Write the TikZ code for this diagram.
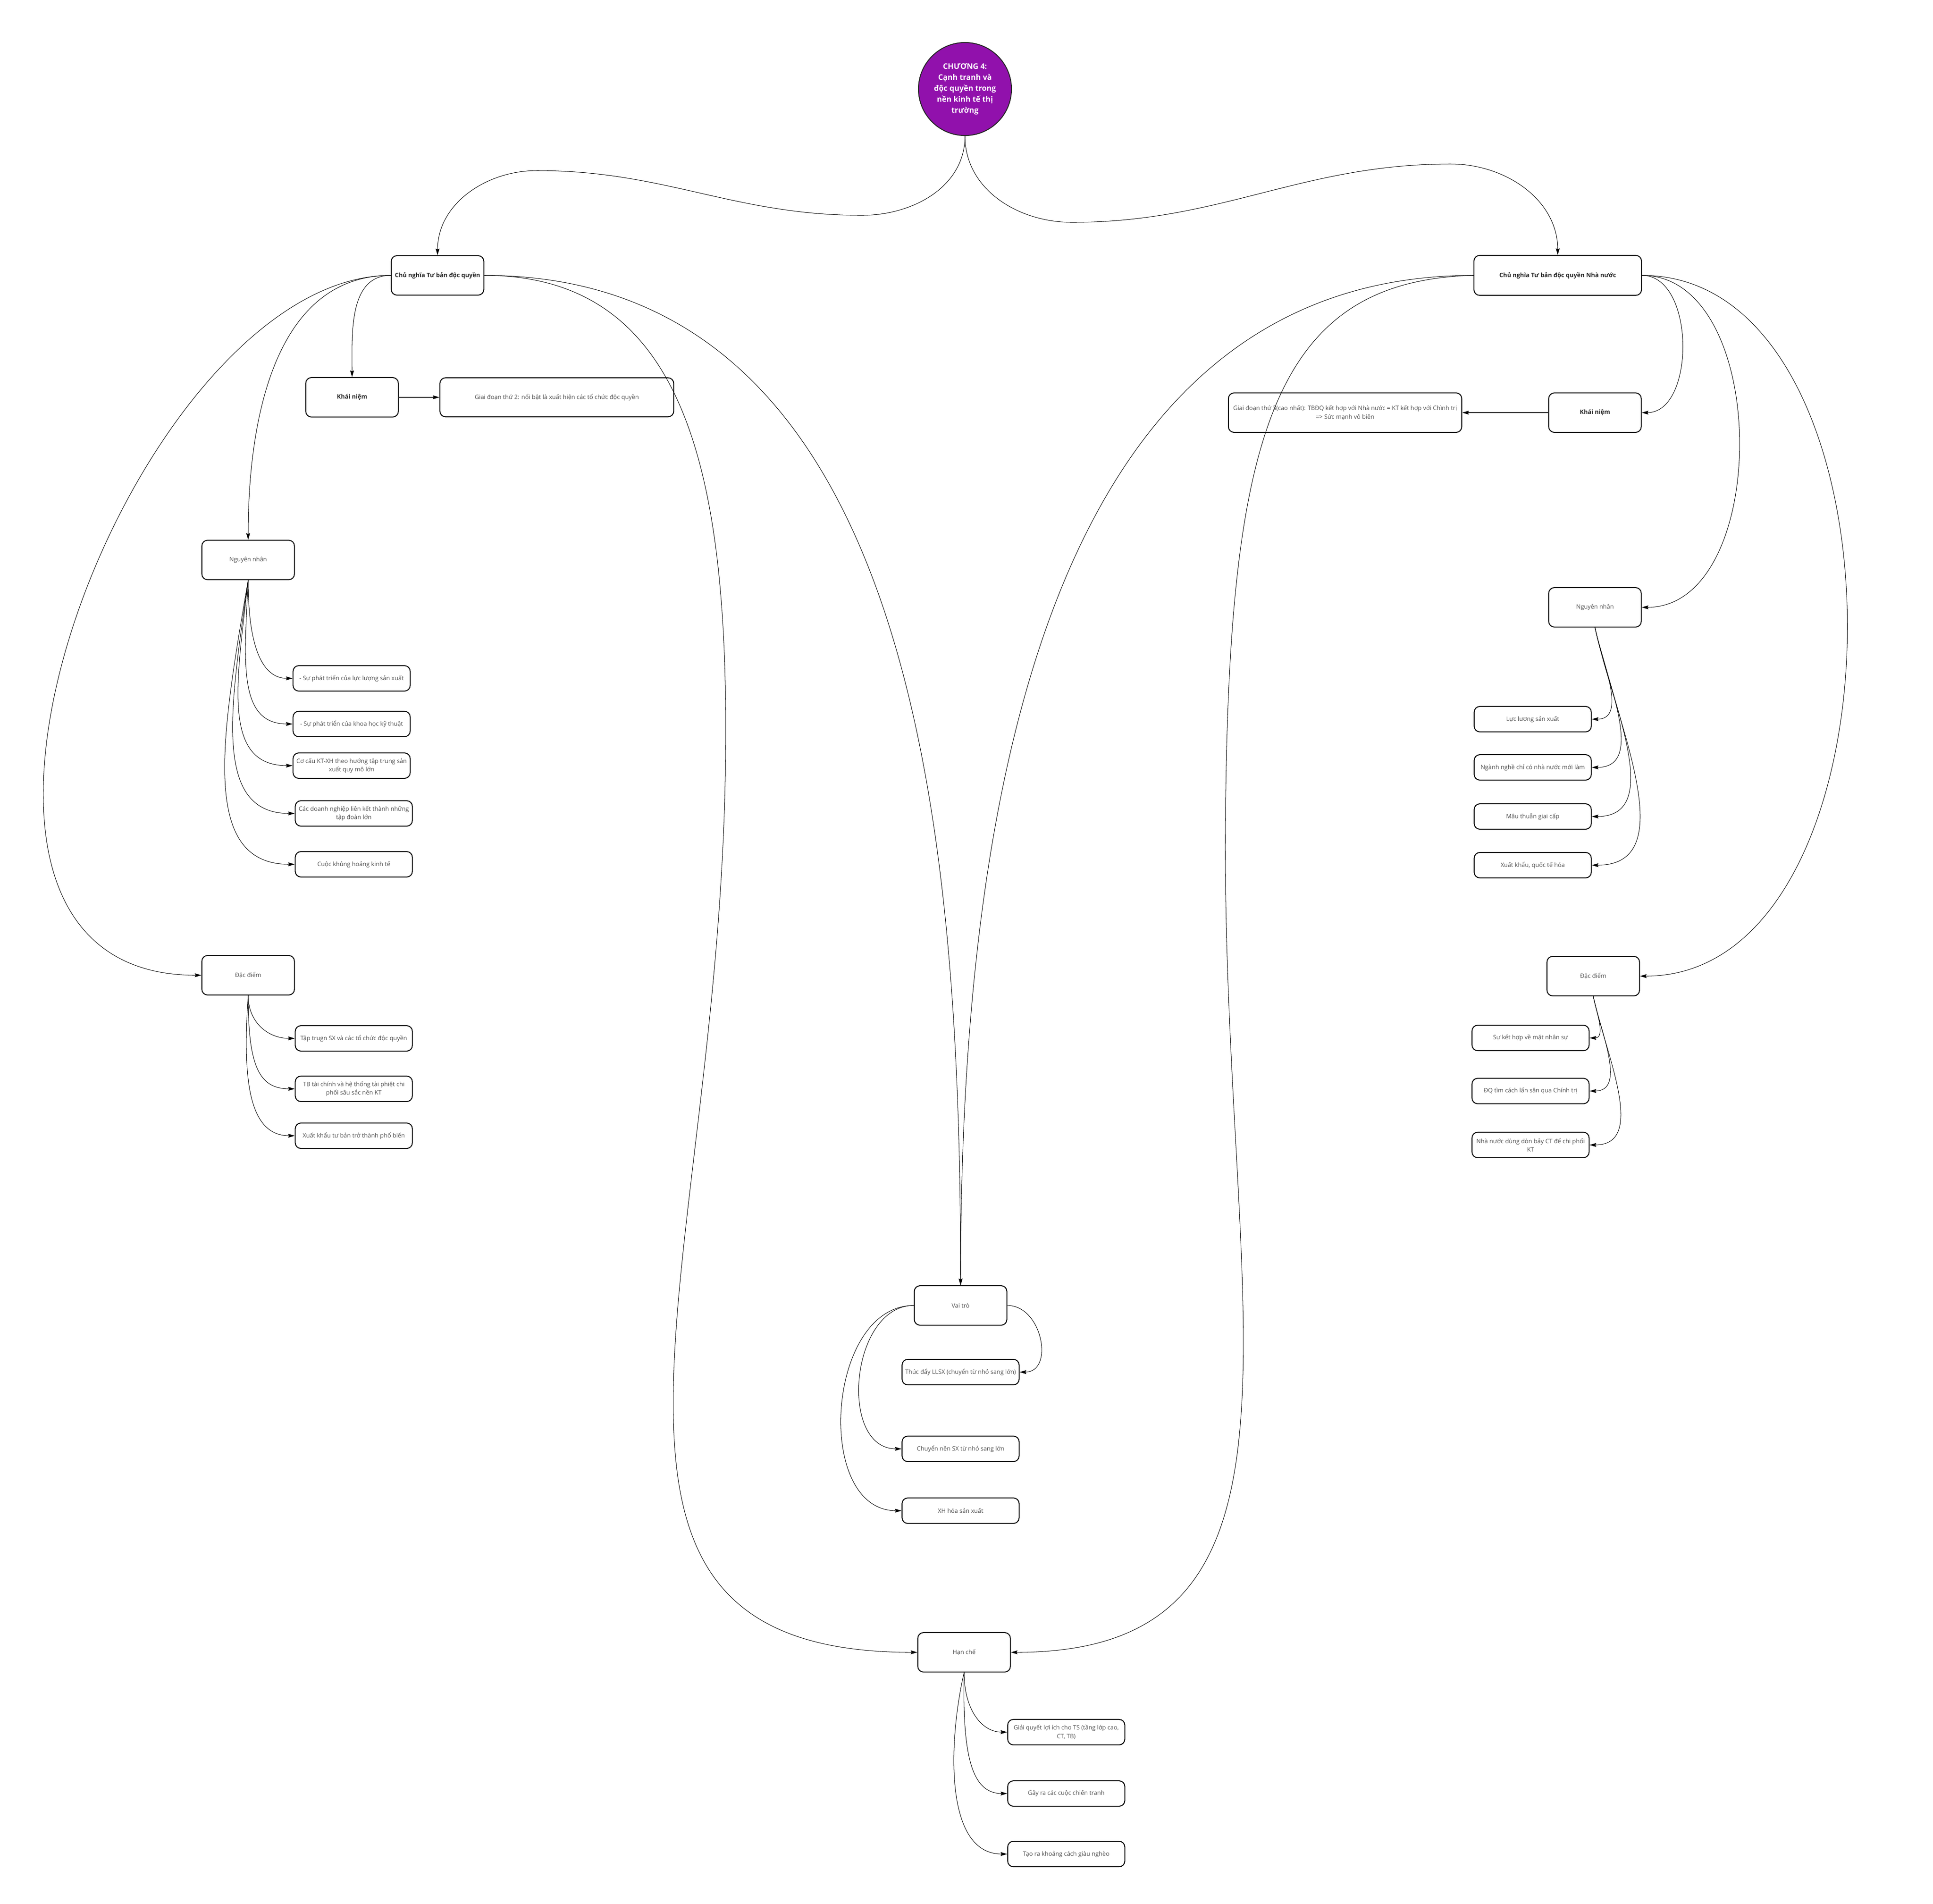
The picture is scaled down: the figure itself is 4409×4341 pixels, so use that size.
\documentclass[tikz,border=0pt]{standalone}
\usepackage{fontspec}
\setmainfont{Open Sans}
\usetikzlibrary{arrows.meta}
\definecolor{purp}{RGB}{145,17,172}
\definecolor{txt}{RGB}{80,80,80}
\definecolor{btxt}{RGB}{40,40,40}
\begin{document}
\begin{tikzpicture}[x=0.01cm,y=-0.01cm,
  box/.style={draw=black, line width=0.6pt, rounded corners=0.13cm, inner sep=0pt, align=center, text=txt, font=\fontsize{3.9pt}{5.5pt}\selectfont},
  bbox/.style={box, text=btxt, font=\fontsize{3.92pt}{5.5pt}\selectfont\bfseries},
  big/.style={minimum width=2.11cm, minimum height=0.9cm},
  leaf/.style={minimum width=2.67cm, minimum height=0.58cm},
  conn/.style={line width=0.3pt, -{Stealth[length=4.3pt,width=2.5pt,inset=0.6pt]}},
]
\useasboundingbox (0,0) rectangle (4409,4341);
\fill[white] (0,0) rectangle (4409,4341);

% central circle
\node[circle, fill=purp, draw=black!85, line width=0.6pt, minimum size=2.12cm, inner sep=0pt, align=center, text=white, font=\fontsize{4.95pt}{7.1pt}\selectfont\bfseries] (ch) at (2201,203) {CHƯƠNG 4:\\Cạnh tranh và\\độc quyền trong\\nền kinh tế thị\\trường};

% main branches
\node[bbox, big] (L) at (998,628) {Chủ nghĩa Tư bản độc quyền};
\node[bbox, minimum width=3.82cm, minimum height=0.91cm] (R) at (3553,628) {Chủ nghĩa Tư bản độc quyền Nhà nước};

% left side
\node[bbox, big] (knl) at (803,906) {Khái niệm};
\node[box, minimum width=5.33cm, minimum height=0.89cm] (gd2) at (1270,906) {Giai đoạn thứ 2: nổi bật là xuất hiện các tổ chức độc quyền};
\node[box, big] (nnl) at (566,1277) {Nguyên nhân};
\node[box, leaf] (c1) at (802,1547) {- Sự phát triển của lực lượng sản xuất};
\node[box, leaf] (c2) at (802,1651) {- Sự phát triển của khoa học kỹ thuật};
\node[box, leaf] (c3) at (802,1746) {Cơ cấu KT-XH theo hướng tập trung sản\\xuất quy mô lớn};
\node[box, leaf] (c4) at (807,1855) {Các doanh nghiệp liên kết thành những\\tập đoàn lớn};
\node[box, leaf] (c5) at (807,1971) {Cuộc khủng hoảng kinh tế};
\node[box, big] (ddl) at (566,2224) {Đặc điểm};
\node[box, leaf] (d1) at (807,2368) {Tập trugn SX và các tổ chức độc quyền};
\node[box, leaf] (d2) at (807,2483) {TB tài chính và hệ thống tài phiệt chi\\phối sâu sắc nền KT};
\node[box, leaf] (d3) at (807,2590) {Xuất khẩu tư bản trở thành phổ biến};

% right side
\node[bbox, big] (knr) at (3638,941) {Khái niệm};
\node[box, minimum width=5.32cm, minimum height=0.9cm] (gd3) at (3068,941) {Giai đoạn thứ 3(cao nhất): TBĐQ kết hợp với Nhà nước = KT kết hợp với Chình trị\\=> Sức mạnh vô biên};
\node[box, big] (nnr) at (3638,1385) {Nguyên nhân};
\node[box, leaf] (r1) at (3496,1640) {Lực lượng sản xuất};
\node[box, leaf] (r2) at (3496,1750) {Ngành nghề chỉ có nhà nước mới làm};
\node[box, leaf] (r3) at (3496,1862) {Mâu thuẫn giai cấp};
\node[box, leaf] (r4) at (3496,1973) {Xuất khẩu, quốc tế hóa};
\node[box, big] (ddr) at (3634,2226) {Đặc điểm};
\node[box, leaf] (s1) at (3491,2367) {Sự kết hợp về mặt nhân sự};
\node[box, leaf] (s2) at (3491,2488) {ĐQ tìm cách lấn sân qua Chính trị};
\node[box, leaf] (s3) at (3491,2611) {Nhà nước dùng dòn bảy CT để chi phối\\KT};

% centre
\node[box, big] (vt) at (2191,2977) {Vai trò};
\node[box, leaf] (v1) at (2191,3129) {Thúc đẩy LLSX (chuyển từ nhỏ sang lớn)};
\node[box, leaf] (v2) at (2191,3304) {Chuyển nền SX từ nhỏ sang lớn};
\node[box, leaf] (v3) at (2191,3445) {XH hóa sản xuất};
\node[box, big] (hc) at (2199,3768) {Hạn chế};
\node[box, leaf] (h1) at (2432,3950) {Giải quyết lợi ích cho TS (tầng lớp cao,\\CT, TB)};
\node[box, leaf] (h2) at (2432,4090) {Gây ra các cuộc chiến tranh};
\node[box, leaf] (h3) at (2432,4228) {Tạo ra khoảng cách giàu nghèo};

% connectors from the circle
\draw[conn] (ch.south) to[out=-90,in=0] (1966,491) to[out=180,in=0] (1225,389) to[out=180,in=90] (L.north);
\draw[conn] (ch.south) to[out=-90,in=180] (2445,507) to[out=0,in=180] (3309,374) to[out=0,in=90] (R.north);

% left main branch
\draw[conn] (L.west) to[out=180,in=90] (knl.north);
\draw[conn] (knl.east) -- (gd2.west);
\draw[conn] (L.west) to[out=180,in=90] (nnl.north);
\draw[conn] (L.west) .. controls (300,628) and (-300,2224) .. (ddl.west);
\draw[conn] (L.east) to[out=0,in=90] (vt.north);
\draw[conn] (L.east) .. controls (1550,628) and (1660,1050) .. (1655,1700) .. controls (1650,2900) and (1200,3768) .. (hc.west);

\draw[conn] (nnl.south) .. controls (566,1480) and (600,1547) .. (c1.west);
\draw[conn] (nnl.south) .. controls (558,1503) and (540,1651) .. (c2.west);
\draw[conn] (nnl.south) .. controls (540,1555) and (505,1746) .. (c3.west);
\draw[conn] (nnl.south) .. controls (525,1615) and (485,1855) .. (c4.west);
\draw[conn] (nnl.south) .. controls (505,1679) and (455,1971) .. (c5.west);

\draw[conn] (ddl.south) .. controls (566,2330) and (610,2368) .. (d1.west);
\draw[conn] (ddl.south) .. controls (566,2430) and (590,2483) .. (d2.west);
\draw[conn] (ddl.south) .. controls (555,2440) and (560,2590) .. (d3.west);

% right main branch
\draw[conn] (R.west) to[out=180,in=90] (vt.north);
\draw[conn] (R.west) .. controls (2900,640) and (2800,1000) .. (2795,1900) .. controls (2790,3000) and (3050,3768) .. (hc.east);
\draw[conn] (R.east) to[out=0,in=0] (knr.east);
\draw[conn] (knr.west) -- (gd3.east);
\draw[conn] (R.east) to[out=0,in=0] (nnr.east);
\draw[conn] (R.east) to[out=0,in=0] (ddr.east);

\foreach \n in {r1,r2,r3,r4}
  \draw[conn] (nnr.south) to[out=-78,in=0] (\n.east);
\foreach \n in {s1,s2,s3}
  \draw[conn] (ddr.south) to[out=-78,in=0] (\n.east);

% centre branches
\draw[conn] (vt.east) .. controls +(80,0) and +(80,0) .. (v1.east);
\draw[conn] (vt.west) .. controls +(-145,0) and +(-145,0) .. (v2.west);
\draw[conn] (vt.west) .. controls +(-200,0) and +(-200,0) .. (v3.west);

\draw[conn] (hc.south) .. controls (2199,3900) and (2240,3950) .. (h1.west);
\draw[conn] (hc.south) .. controls (2195,4000) and (2215,4090) .. (h2.west);
\draw[conn] (hc.south) .. controls (2165,3960) and (2150,4228) .. (h3.west);
\end{tikzpicture}
\end{document}
